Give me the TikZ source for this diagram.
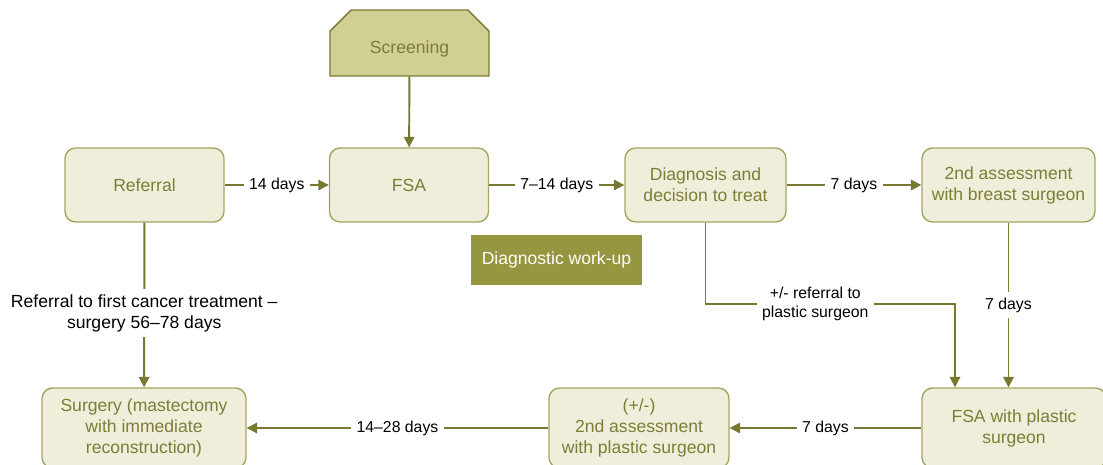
\documentclass[tikz,border=0pt]{standalone}
\usepackage{fontspec}
\setmainfont{Liberation Sans}
\usetikzlibrary{arrows.meta,shapes.misc}
\definecolor{L1}{RGB}{120,120,48}
\definecolor{B1}{RGB}{239,238,218}
\definecolor{B2}{RGB}{165,165,95}
\definecolor{T1}{RGB}{125,125,55}
\definecolor{S1}{RGB}{208,207,148}
\definecolor{W1}{RGB}{150,150,64}

\begin{document}
\begin{tikzpicture}[x=0.02cm, y=-0.02cm,
      box/.style={draw=B2, fill=B1, rounded corners=6pt, line width=0.8pt, text=T1,
                  font=\fontsize{10}{12}\selectfont, align=center,
                  minimum width=3.18cm, minimum height=1.48cm, inner sep=2pt},
      arr/.style={L1, line width=1.1pt, -{Triangle[length=6pt,width=6pt]}},
      lbl/.style={fill=white, text=black, font=\fontsize{9}{11}\selectfont, align=center, inner sep=3pt}]
      \useasboundingbox (0,0) rectangle (1103,464);
      % boxes
      \node[chamfered rectangle, chamfered rectangle corners={north west,north east},
            chamfered rectangle sep=6pt, draw=L1, fill=S1, line width=0.8pt, text=T1,
            font=\fontsize{10}{12}\selectfont, minimum width=3.18cm, minimum height=1.32cm,
            text height=7pt, text depth=2pt]
            (screening) at (409.5, 43) {\raisebox{-3.4pt}{Screening}};
      \node[box] (referral) at (144.5, 185) {Referral};
      \node[box] (fsa) at (409, 185) {FSA};
      \node[box, minimum width=3.22cm] (diag) at (705.5, 185) {Diagnosis and\\decision to treat};
      \node[box, minimum width=3.46cm] (assess) at (1008.5, 185) {2nd assessment\\with  breast surgeon};
      \node[fill=W1, text=white, font=\fontsize{10}{12}\selectfont, minimum width=3.42cm,
            minimum height=1cm] (workup) at (556.5, 260) {Diagnostic work-up};
      \node[box, minimum width=4.08cm, minimum height=1.6cm] (surgery) at (144, 428)
            {Surgery (mastectomy\\with  immediate\\reconstruction)};
      \node[box, minimum width=3.6cm, minimum height=1.6cm] (plastic) at (639, 428)
            {(+/-)\\2nd assessment\\with  plastic surgeon};
      \node[box, minimum width=3.68cm, minimum height=1.6cm] (fsaplastic) at (1014, 428)
            {FSA with plastic\\surgeon};
      \coordinate (kink) at (955, 304);
      % connectors
      \draw[arr] (screening) -- (fsa);
      \draw[arr] (referral) -- node[lbl]{14 days} (fsa);
      \draw[arr] (fsa) -- node[lbl]{7--14 days} (diag);
      \draw[arr] (diag) -- node[lbl]{7 days} (assess);
      \draw[arr] (assess.south) -- node[lbl]{7 days} (assess.south |- fsaplastic.north);
      \draw[arr] (diag.south) |- node[lbl, pos=0.72]{+/- referral to\\plastic  surgeon} (kink)
            -- (kink |- fsaplastic.north);
      \draw[arr] (fsaplastic) -- node[lbl]{7 days} (plastic);
      \draw[arr] (plastic) -- node[lbl]{14--28 days} (surgery);
      \draw[arr] (referral) -- node[lbl, pos=0.55, font=\fontsize{10}{12}\selectfont]
            {Referral to first cancer treatment --\\surgery 56--78 days} (surgery);
\end{tikzpicture}
\end{document}
